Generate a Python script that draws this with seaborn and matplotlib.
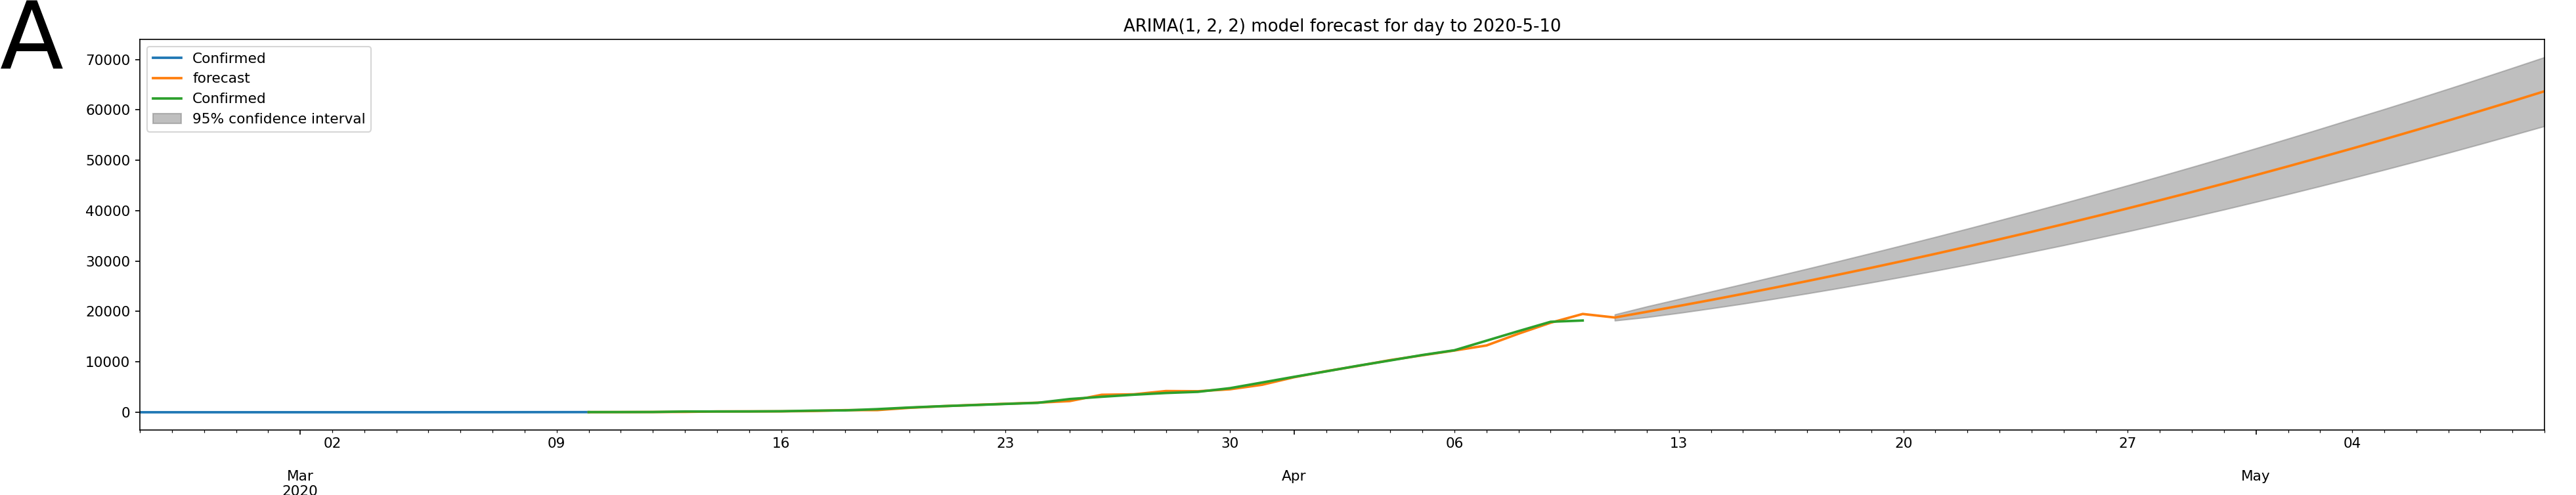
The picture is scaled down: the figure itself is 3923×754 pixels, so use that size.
import matplotlib
matplotlib.use("Agg")
import matplotlib.pyplot as plt
import matplotlib.dates as mdates
import matplotlib.ticker as mticker
import pandas as pd
import seaborn as sns

# observed cases, early part (Feb 25 - Mar 10)
train_dates = pd.date_range("2020-02-25", "2020-03-10")
train_confirmed = [0, 1, 1, 1, 2, 2, 2, 2, 4, 4, 13, 13, 20, 25, 31]

# observed cases, later part (Mar 10 - Apr 10)
test_dates = pd.date_range("2020-03-10", "2020-04-10")
test_confirmed = [31, 38, 52, 151, 151, 162, 200, 321, 372, 621,
                  940, 1200, 1420, 1650, 1870, 2620, 3070, 3480, 3820, 4050,
                  4780, 5900, 7030, 8110, 9240, 10280, 11360, 12300, 14200, 16100,
                  17950, 18200]

# in-sample prediction (Mar 10 - Apr 10)
insample_pred = [30, 35, 48, 70, 160, 170, 180, 245, 420, 430,
                 880, 1190, 1450, 1680, 1900, 2215, 3470, 3560, 4210, 4170,
                 4560, 5450, 6950, 8150, 9200, 10350, 11300, 12250, 13250, 15590,
                 17760, 19500]

# out-of-sample forecast (Apr 11 - May 10)
fc_dates = pd.date_range("2020-04-11", "2020-05-10")
fc_mean = [18800, 19930, 21090, 22270, 23490, 24740, 26020, 27330, 28660, 30030,
           31430, 32860, 34320, 35800, 37320, 38870, 40450, 42060, 43690, 45360,
           47060, 48790, 50550, 52330, 54150, 56000, 57880, 59790, 61720, 63690]
fc_upper = [19405, 20990, 22470, 23950, 25440, 26950, 28470, 30010, 31580, 33170,
            34780, 36420, 38090, 39780, 41500, 43250, 45020, 46820, 48650, 50500,
            52380, 54290, 56230, 58200, 60150, 62150, 64180, 66240, 68330, 70450]
fc_lower = [18195, 18870, 19700, 20600, 21540, 22540, 23570, 24640, 25750, 26900,
            28080, 29290, 30540, 31830, 33140, 34500, 35880, 37300, 38740, 40220,
            41740, 43280, 44860, 46470, 48110, 49780, 51480, 53220, 54990, 56780]

pred_dates = test_dates.append(fc_dates)
pred_values = insample_pred + fc_mean

plt.rcParams["font.size"] = 10.4
plt.rcParams["lines.linewidth"] = 1.8

fig = plt.figure(figsize=(3923 / 150, 754 / 150), dpi=150)
ax = fig.add_axes([0.0543, 0.1313, 0.9335, 0.7891])

sns.lineplot(x=train_dates, y=train_confirmed, ax=ax, color="C0", label="Confirmed")
sns.lineplot(x=pred_dates, y=pred_values, ax=ax, color="C1", label="forecast")
sns.lineplot(x=test_dates, y=test_confirmed, ax=ax, color="C2", label="Confirmed")
ax.fill_between(fc_dates, fc_lower, fc_upper, color="gray", alpha=0.5,
                label="95% confidence interval")

ax.set_xlim(train_dates[0], fc_dates[-1])
ax.set_xlabel("")
ax.set_ylabel("")
ax.set_title("ARIMA(1, 2, 2) model forecast for day to 2020-5-10")

# pandas-like date axis: daily minor ticks, weekly day labels, month labels below
ax.xaxis.set_major_locator(mdates.MonthLocator())
ax.xaxis.set_minor_locator(mdates.DayLocator())


def month_label(x, pos):
    d = mdates.num2date(x)
    if pos == 0:
        return d.strftime("\n\n%b\n%Y")
    return d.strftime("\n\n%b")


def day_label(x, pos):
    d = mdates.num2date(x)
    if d.weekday() == 0 and d.day != 1:
        return d.strftime("%d")
    return ""


ax.xaxis.set_major_formatter(mticker.FuncFormatter(month_label))
ax.xaxis.set_minor_formatter(mticker.FuncFormatter(day_label))

ax.legend(loc="upper left")

fig.text(0.0, 0.8607, "A", fontsize=68, ha="left", va="baseline")

fig.savefig("out.png", dpi=150)
